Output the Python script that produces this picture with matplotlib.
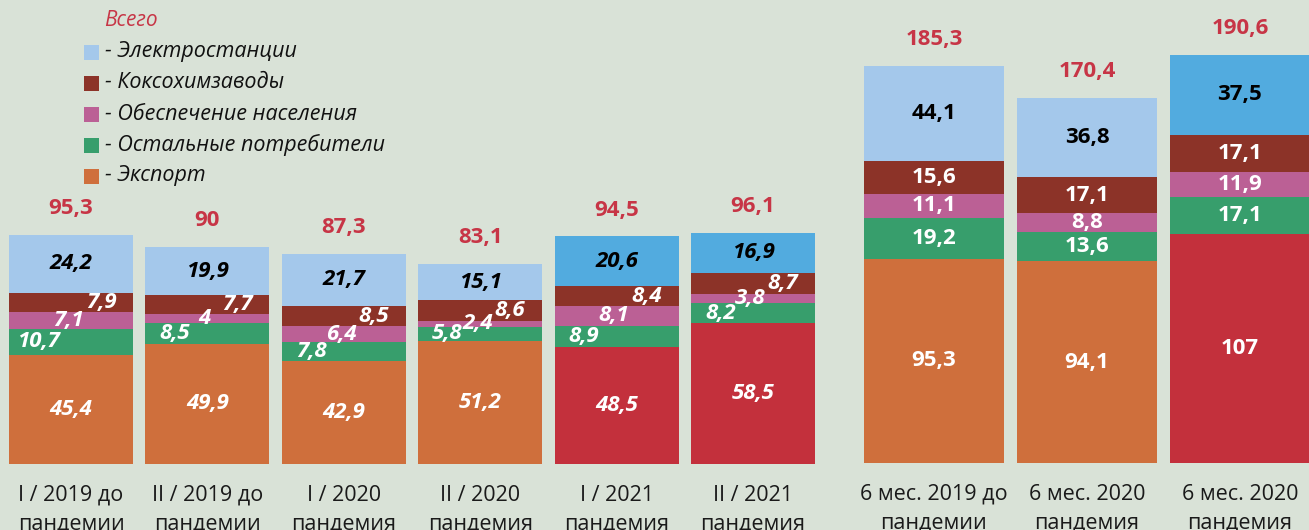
import matplotlib
matplotlib.use("Agg")
import matplotlib.pyplot as plt
from matplotlib.patches import Rectangle

plt.rcParams['font.family'] = ['Open Sans', 'DejaVu Sans']

# -------------------------
# Data (million tonnes), bottom -> top stack order
# -------------------------
series_names = ["- Экспорт", "- Остальные потребители", "- Обеспечение населения",
                "- Коксохимзаводы", "- Электростанции"]

# left group: half-years
left_cats = ["I / 2019 до\nпандемии", "II / 2019 до\nпандемии", "I / 2020\nпандемия",
             "II / 2020\nпандемия", "I / 2021\nпандемия", "II / 2021\nпандемия"]
left_export = [45.4, 49.9, 42.9, 51.2, 48.5, 58.5]
left_other = [10.7, 8.5, 7.8, 5.8, 8.9, 8.2]
left_pop = [7.1, 4, 6.4, 2.4, 8.1, 3.8]
left_coke = [7.9, 7.7, 8.5, 8.6, 8.4, 8.7]
left_power = [24.2, 19.9, 21.7, 15.1, 20.6, 16.9]
left_total = [95.3, 90, 87.3, 83.1, 94.5, 96.1]
left_hl = [False, False, False, False, True, True]

# right group: 6 months
right_cats = ["6 мес. 2019 до\nпандемии", "6 мес. 2020\nпандемия", "6 мес. 2020\nпандемия"]
right_export = [95.3, 94.1, 107]
right_other = [19.2, 13.6, 17.1]
right_pop = [11.1, 8.8, 11.9]
right_coke = [15.6, 17.1, 17.1]
right_power = [44.1, 36.8, 37.5]
right_total = [185.3, 170.4, 190.6]
right_hl = [False, False, True]

# -------------------------
# Style
# -------------------------
BG = "#d9e2d7"
C_EXPORT = "#cf6f3c"
C_EXPORT_HL = "#c3303c"
C_OTHER = "#379e6c"
C_POP = "#bb6095"
C_COKE = "#8c3328"
C_POWER = "#a4c8eb"
C_POWER_HL = "#52abdf"
C_TOTAL = "#c73546"
legend_colors = [C_EXPORT, C_OTHER, C_POP, C_COKE, C_POWER]

W, H = 1309, 530
fig = plt.figure(figsize=(W / 100, H / 100), dpi=100, facecolor=BG)


def fmt(v):
    return f"{v:g}".replace(".", ",")


def draw_group(ax, cats, stacks, totals, hl, width, italic, label_dx, fs):
    n = len(cats)
    x = list(range(n))
    bottom = [0.0] * n
    for k, vals in enumerate(stacks):
        if k == 0:
            colors = [C_EXPORT_HL if h else C_EXPORT for h in hl]
        elif k == 4:
            colors = [C_POWER_HL if h else C_POWER for h in hl]
        else:
            colors = [legend_colors[k]] * n
        ax.bar(x, vals, width=width, bottom=bottom, color=colors, linewidth=0)
        for i, v in enumerate(vals):
            tc = "black" if k == 4 else "white"
            ax.text(i + label_dx[k], bottom[i] + v / 2, fmt(v), ha="center", va="center",
                    color=tc, fontsize=fs, fontweight="bold",
                    fontstyle="italic" if italic else "normal")
        bottom = [b + v for b, v in zip(bottom, vals)]
    for i, t in enumerate(totals):
        ax.annotate(fmt(t), xy=(i, t), xytext=(0, 19), textcoords="offset points",
                    ha="center", va="center", color=C_TOTAL, fontsize=16, fontweight="bold")
    ax.set_xticks(x, cats)
    ax.tick_params(axis="x", length=0, pad=15, labelsize=15.5, labelcolor="#1a1a1a")
    for lbl in ax.get_xticklabels():
        lbl.set_linespacing(1.5)
    ax.set_yticks([])
    ax.set_facecolor(BG)
    for s in ax.spines.values():
        s.set_visible(False)


# left axes (scale ~2.405 px per unit)
ax1 = fig.add_axes([0, 66.3 / H, 830 / W, (H - 66.3) / H])
draw_group(ax1, left_cats,
           [left_export, left_other, left_pop, left_coke, left_power],
           left_total, left_hl, 0.909, True, [0, -0.24, -0.02, 0.22, 0], 16)
ax1.set_xlim(-71 / 136.4, (830 - 71) / 136.4)
ax1.set_ylim(0, 463.7 / 2.405)

# right axes (scale ~2.14 px per unit)
ax2 = fig.add_axes([840 / W, 67.3 / H, 469 / W, (H - 67.3) / H])
draw_group(ax2, right_cats,
           [right_export, right_other, right_pop, right_coke, right_power],
           right_total, right_hl, 0.915, False, [0, 0, 0, 0, 0], 16)
ax2.set_xlim((840 - 934) / 153, (1309 - 934) / 153)
ax2.set_ylim(0, 462.7 / 2.14)

# legend (drawn by hand, top-left)
fig.text(104 / W, 1 - 21 / H, "Всего", color=C_TOTAL, fontsize=15, fontstyle="italic",
         ha="left", va="center")
rows_y = [176, 145, 114, 83, 52]  # export..power, bottom-up
for name, col, yy in zip(series_names, legend_colors, rows_y):
    fig.patches.append(Rectangle((84 / W, 1 - (yy + 7.5) / H), 15 / W, 15 / H,
                                 transform=fig.transFigure, facecolor=col, linewidth=0))
    fig.text(105 / W, 1 - yy / H, name, color="#111111", fontsize=15.5, fontstyle="italic",
             ha="left", va="center")

fig.savefig("out.png", dpi=100, facecolor=BG)
